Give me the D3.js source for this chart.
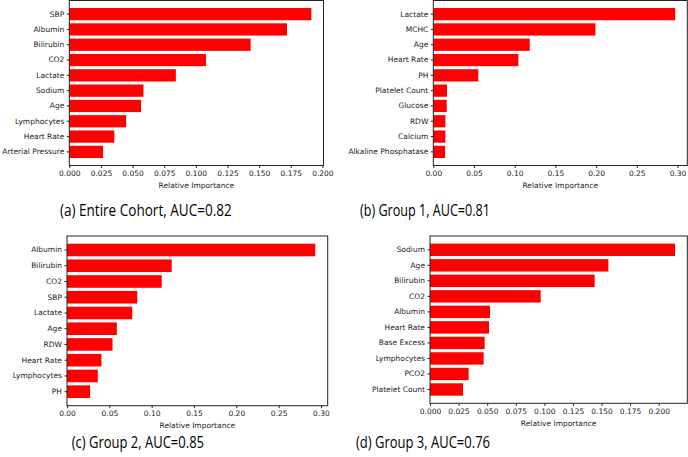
<!DOCTYPE html>
<html>
<head>
<meta charset="utf-8">
<script src="https://cdn.jsdelivr.net/npm/d3@7"></script>
<style>
html,body{margin:0;padding:0;background:#fff;}
svg{display:block;}
</style>
</head>
<body>
<svg id="chart" width="688" height="457"></svg>
<script>
// Data
const labelsA = ["SBP","Albumin","Bilirubin","CO2","Lactate","Sodium","Age","Lymphocytes","Heart Rate","Arterial Pressure"];
const valuesA = [0.1913,0.172,0.1433,0.108,0.0842,0.0586,0.0567,0.0449,0.0356,0.0267];
const labelsB = ["Lactate","MCHC","Age","Heart Rate","PH","Platelet Count","Glucose","RDW","Calcium","Alkaline Phosphatase"];
const valuesB = [0.2972,0.1992,0.1185,0.1045,0.0553,0.0168,0.0165,0.0148,0.0148,0.0145];
const labelsC = ["Albumin","Bilirubin","CO2","SBP","Lactate","Age","RDW","Heart Rate","Lymphocytes","PH"];
const valuesC = [0.2933,0.1237,0.1119,0.083,0.0771,0.0589,0.0538,0.0407,0.0364,0.0273];
const labelsD = ["Sodium","Age","Bilirubin","CO2","Albumin","Heart Rate","Base Excess","Lymphocytes","PCO2","Platelet Count"];
const valuesD = [0.2143,0.156,0.144,0.0968,0.0525,0.0516,0.0478,0.0469,0.0338,0.0289];
const ticksA = [0,0.025,0.05,0.075,0.1,0.125,0.15,0.175,0.2];
const ticksB = [0,0.05,0.1,0.15,0.2,0.25,0.3];
const ticksC = [0,0.05,0.1,0.15,0.2,0.25,0.3];
const ticksD = [0,0.025,0.05,0.075,0.1,0.125,0.15,0.175,0.2];
const captions = ["(a) Entire Cohort, AUC=0.82","(b) Group 1, AUC=0.81","(c) Group 2, AUC=0.85","(d) Group 3, AUC=0.76"];
const xTitle = "Relative Importance";

const svg = d3.select("#chart");

const panels = [
  {labels:labelsA, values:valuesA, ticks:ticksA, fmt:".3f", box:{l:69.3,r:323.5,t:0.5,b:165.5}},
  {labels:labelsB, values:valuesB, ticks:ticksB, fmt:".2f", box:{l:433.3,r:687.3,t:0.5,b:165.5}},
  {labels:labelsC, values:valuesC, ticks:ticksC, fmt:".2f", box:{l:67,r:327.7,t:236,b:405.7}},
  {labels:labelsD, values:valuesD, ticks:ticksD, fmt:".3f", box:{l:430,r:687.3,t:236,b:403.3}}
];
const capPos = [
  {x1:60, x2:231.7, y:216},
  {x1:360, x2:490, y:216},
  {x1:71.7, x2:204, y:447.5},
  {x1:356, x2:490, y:447.5}
];

const tickFont = "DejaVu Sans, sans-serif";
const tickSize = 7.5;

panels.forEach((p, i) => {
  const b = p.box;
  const g = svg.append("g");
  const x = d3.scaleLinear().domain([0, d3.max(p.values) * 1.05]).range([b.l, b.r]);
  const y = d3.scaleBand().domain(p.labels).range([b.t, b.b]).paddingInner(0.2).paddingOuter(0.49);

  g.selectAll("rect.bar").data(p.values).enter().append("rect")
    .attr("class","bar")
    .attr("x", x(0))
    .attr("y", (d, j) => y(p.labels[j]))
    .attr("width", d => x(d) - x(0))
    .attr("height", y.bandwidth())
    .attr("fill", "#ff0000");

  // frame
  g.append("rect").attr("x", b.l).attr("y", b.t).attr("width", b.r - b.l).attr("height", b.b - b.t)
    .attr("fill","none").attr("stroke","#222").attr("stroke-width",1);

  const xAxis = d3.axisBottom(x).tickValues(p.ticks).tickFormat(d3.format(p.fmt)).tickSize(2.5).tickPadding(2.5);
  const gx = g.append("g").attr("transform", `translate(0,${b.b})`).call(xAxis);
  gx.select(".domain").remove();
  gx.selectAll("text").attr("font-family", tickFont).attr("font-size", tickSize).attr("fill","#222");
  gx.selectAll("line").attr("stroke","#222");

  const yAxis = d3.axisLeft(y).tickSize(2.5).tickPadding(2.5);
  const gy = g.append("g").attr("transform", `translate(${b.l},0)`).call(yAxis);
  gy.select(".domain").remove();
  gy.selectAll("text").attr("font-family", tickFont).attr("font-size", tickSize).attr("fill","#222");
  gy.selectAll("line").attr("stroke","#222");

  g.append("text")
    .attr("x", (b.l + b.r) / 2)
    .attr("y", b.b + 22.5)
    .attr("text-anchor","middle")
    .attr("font-family", tickFont).attr("font-size", tickSize).attr("fill","#222")
    .text(xTitle);

  const c = capPos[i];
  svg.append("text")
    .attr("x", c.x1).attr("y", c.y)
    .attr("font-family","Open Sans, sans-serif").attr("font-size", 16).attr("fill","#000")
    .attr("textLength", c.x2 - c.x1).attr("lengthAdjust","spacingAndGlyphs")
    .text(captions[i]);
});
</script>
</body>
</html>
